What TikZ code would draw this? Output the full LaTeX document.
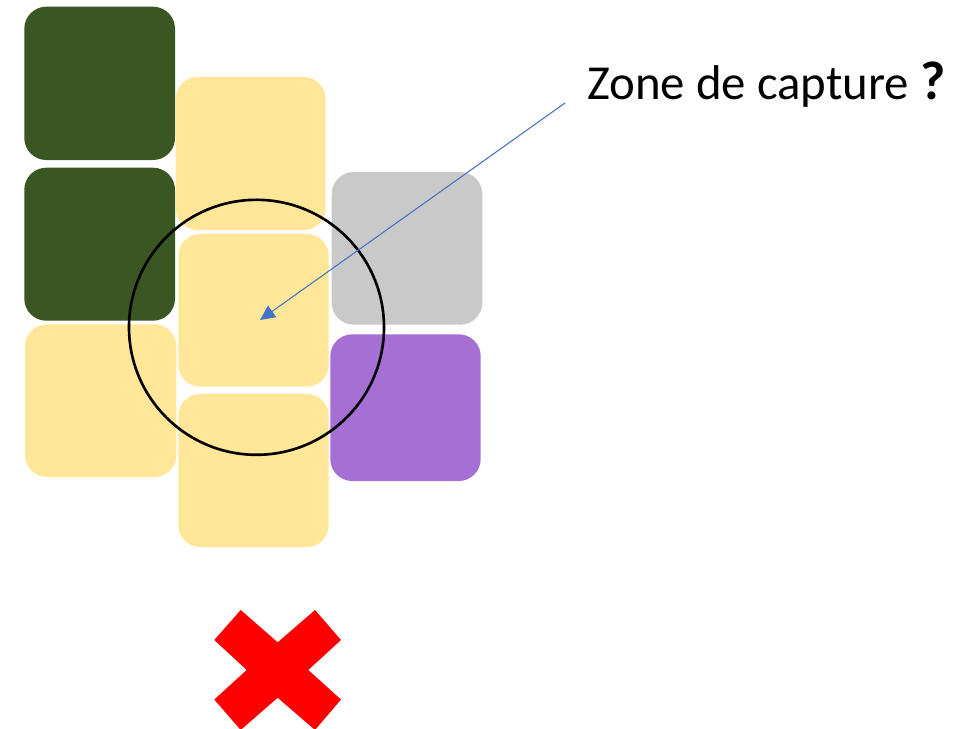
\documentclass[tikz,border=0pt]{standalone}
\usepackage{fontspec}
\setmainfont{Carlito}
\usetikzlibrary{arrows.meta}
\definecolor{tileGreen}{HTML}{3A5623}
\definecolor{tileYellow}{HTML}{FFE699}
\definecolor{tileGray}{HTML}{C9C9C9}
\definecolor{tilePurple}{HTML}{A66FD4}
\definecolor{pointerBlue}{HTML}{4472C4}
\definecolor{crossRed}{HTML}{FF0000}
\tikzset{
  tile/.style={rounded corners=12.5pt},
  green tile/.style={tile, fill=tileGreen},
  yellow tile/.style={tile, fill=tileYellow},
  gray tile/.style={tile, fill=tileGray},
  purple tile/.style={tile, fill=tilePurple},
  zone/.style={draw=black, line width=1.5pt},
  pointer/.style={draw=pointerBlue, line width=0.6pt, -{Triangle[length=8.5pt, width=8pt]}},
  caption/.style={font=\fontsize{27.8}{32}\selectfont, inner sep=0pt, anchor=base west}
}
\begin{document}
\begin{tikzpicture}[x=0.02cm, y=-0.02cm]
  \useasboundingbox (0,0) rectangle (967,728);
  \clip (0,0) rectangle (967,728);
  % first column
  \fill[green tile]  (24.3,6.7)   rectangle (175,160);
  \fill[green tile]  (24.3,167.7) rectangle (175,320.7);
  \fill[yellow tile] (25,324.3)   rectangle (176.3,477);
  % second column
  \fill[yellow tile] (175.7,77)   rectangle (325.7,230);
  \fill[yellow tile] (178.3,234)  rectangle (328.7,386.7);
  \fill[yellow tile] (178.3,394)  rectangle (328.7,547);
  % third column
  \fill[gray tile]   (331.7,172)  rectangle (482.3,324.7);
  \fill[purple tile] (330.3,334.3) rectangle (480.7,481);
  % capture zone
  \draw[zone] (256.5,327.3) circle[radius=127.5];
  % label and pointer
  \node[caption] (label) at (587,99) {Zone de capture {\bfseries\fontsize{31}{32}\selectfont ?}};
  \coordinate (pointerStart) at (565,103);
  \coordinate (pointerTip) at (260,320);
  \draw[pointer] (pointerStart) -- (pointerTip);
  % red cross
  \fill[crossRed] (240.7,610) -- (277.7,642.3) -- (315,610) -- (341,640)
    -- (308.3,670) -- (341,699.5) -- (315,730) -- (277.7,697.7)
    -- (240.7,730) -- (214.3,699.5) -- (246.7,670) -- (214.3,640) -- cycle;
\end{tikzpicture}
\end{document}
